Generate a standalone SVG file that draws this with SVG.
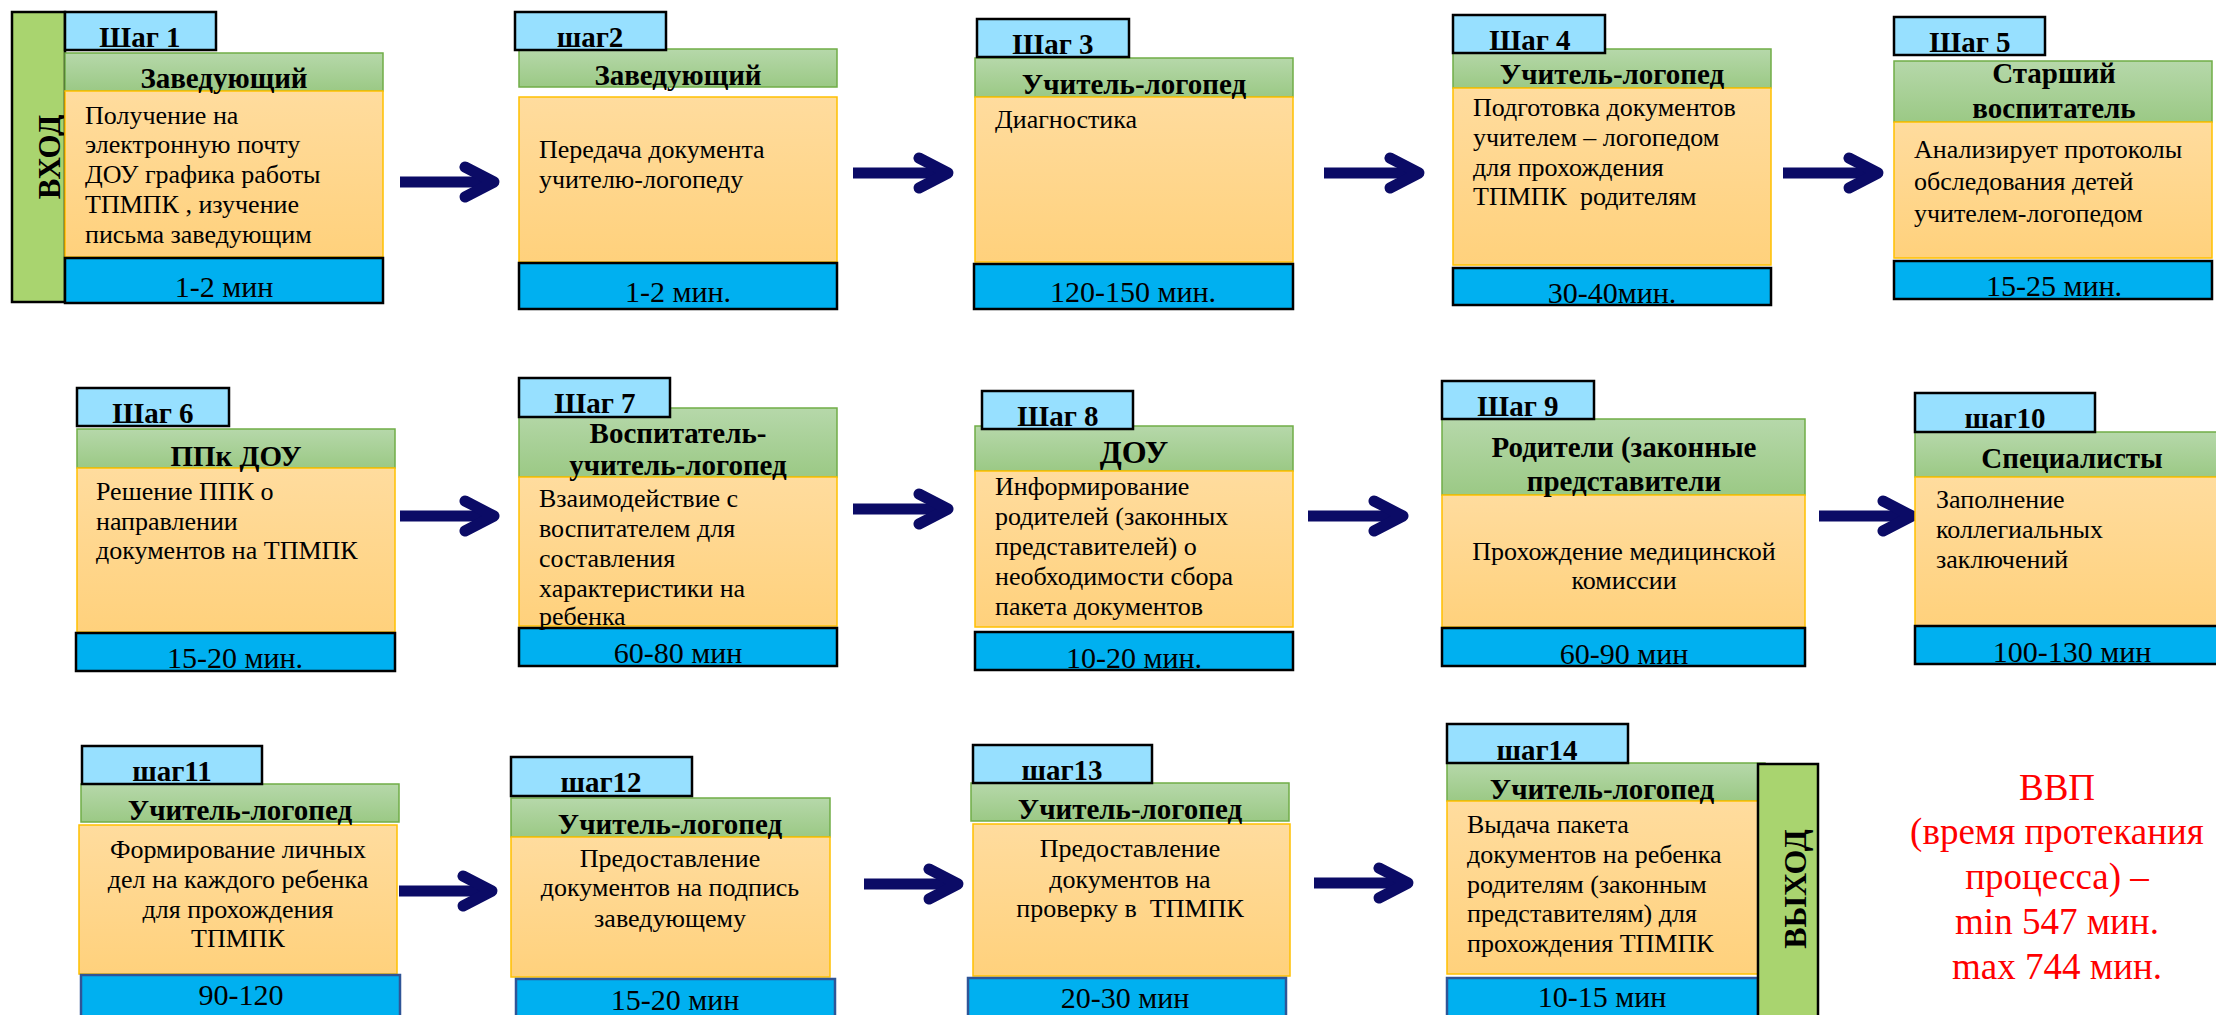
<svg xmlns="http://www.w3.org/2000/svg" width="2216" height="1015" viewBox="0 0 2216 1015">
<defs>
<linearGradient id="gG" x1="0" y1="0" x2="0" y2="1"><stop offset="0" stop-color="#B6D8AA"/><stop offset="1" stop-color="#9BC985"/></linearGradient>
<linearGradient id="gO" x1="0" y1="0" x2="0" y2="1"><stop offset="0" stop-color="#FFDC9E"/><stop offset="1" stop-color="#FFD17C"/></linearGradient>
<style>
.lbl{fill:#97E0FF;stroke:#000;stroke-width:2.5}
.hdr{fill:url(#gG);stroke:#70AD47;stroke-width:1.5}
.bd{fill:url(#gO);stroke:#FFC000;stroke-width:1.5}
.tm{fill:#00B0F0;stroke:#000;stroke-width:2.5}
.tm3{fill:#00B0F0;stroke:#2F5597;stroke-width:2.5}
.bar{fill:#A9D46F;stroke:#000;stroke-width:2.5}
text{font-family:"Liberation Serif","Times New Roman",serif;fill:#000;white-space:pre}
.lt{font-size:29px;font-weight:bold;text-anchor:middle}
.ht{font-size:29px;font-weight:bold;text-anchor:middle}
.bt{font-size:26px}
.bc{font-size:26px;text-anchor:middle}
.tt{font-size:30px;text-anchor:middle}
.vt{font-size:31px;font-weight:bold;text-anchor:middle}
.red{font-size:37px;text-anchor:middle;fill:#FF0000}
.al{fill:none;stroke:#0B0B66;stroke-width:11}
.ah{fill:none;stroke:#0B0B66;stroke-width:11;stroke-linecap:round;stroke-linejoin:round}
</style>
</defs>
<rect width="2216" height="1015" fill="#FFFFFF"/>

<g id="connectors">
<g><path class="al" d="M400 182H490"/><path class="ah" d="M465 167L494 182L465 197"/></g>
<g><path class="al" d="M853 173H944"/><path class="ah" d="M919 158L948 173L919 188"/></g>
<g><path class="al" d="M1324 173H1415"/><path class="ah" d="M1390 158L1419 173L1390 188"/></g>
<g><path class="al" d="M1783 173H1874"/><path class="ah" d="M1849 158L1878 173L1849 188"/></g>
<g><path class="al" d="M400 516H490"/><path class="ah" d="M465 501L494 516L465 531"/></g>
<g><path class="al" d="M853 509H944"/><path class="ah" d="M919 494L948 509L919 524"/></g>
<g><path class="al" d="M1308 516H1399"/><path class="ah" d="M1374 501L1403 516L1374 531"/></g>
<g><path class="al" d="M1819 516H1908"/><path class="ah" d="M1883 501L1912 516L1883 531"/></g>
<g><path class="al" d="M399 891H488"/><path class="ah" d="M463 876L492 891L463 906"/></g>
<g><path class="al" d="M864 884H954"/><path class="ah" d="M929 869L958 884L929 899"/></g>
<g><path class="al" d="M1314 883H1404"/><path class="ah" d="M1379 868L1408 883L1379 898"/></g>
</g>

<g id="entry">
<rect class="bar" x="12" y="12" width="53" height="290"/>
<text class="vt" transform="translate(49 157) rotate(-90)" x="0" y="11">ВХОД</text>
</g>

<g id="step1">
<rect class="hdr" x="65" y="53" width="318" height="38"/>
<rect class="bd" x="65" y="91" width="318" height="166"/>
<rect class="tm" x="65" y="258" width="318" height="45"/>
<rect class="lbl" x="65" y="12" width="151" height="38"/>
<text class="lt" x="140" y="47">Шаг 1</text>
<text class="ht" x="224" y="88">Заведующий</text>
<text class="bt" x="85" y="124">Получение на</text>
<text class="bt" x="85" y="153">электронную почту</text>
<text class="bt" x="85" y="183">ДОУ графика работы</text>
<text class="bt" x="85" y="213">ТПМПК , изучение</text>
<text class="bt" x="85" y="243">письма заведующим</text>
<text class="tt" x="224" y="297">1-2 мин</text>
</g>

<g id="step2">
<rect class="hdr" x="519" y="49" width="318" height="38"/>
<rect class="bd" x="519" y="97" width="318" height="165"/>
<rect class="tm" x="519" y="263" width="318" height="46"/>
<rect class="lbl" x="515" y="12" width="151" height="38"/>
<text class="lt" x="590" y="47">шаг2</text>
<text class="ht" x="678" y="85">Заведующий</text>
<text class="bt" x="539" y="158">Передача документа</text>
<text class="bt" x="539" y="188">учителю-логопеду</text>
<text class="tt" x="678" y="302">1-2 мин.</text>
</g>

<g id="step3">
<rect class="hdr" x="975" y="58" width="318" height="39"/>
<rect class="bd" x="975" y="97" width="318" height="165"/>
<rect class="tm" x="974" y="264" width="319" height="45"/>
<rect class="lbl" x="977" y="19" width="152" height="38"/>
<text class="lt" x="1053" y="54">Шаг 3</text>
<text class="ht" x="1134" y="94">Учитель-логопед</text>
<text class="bt" x="995" y="128">Диагностика</text>
<text class="tt" x="1133" y="302">120-150 мин.</text>
</g>

<g id="step4">
<rect class="hdr" x="1453" y="49" width="318" height="39"/>
<rect class="bd" x="1453" y="88" width="318" height="177"/>
<rect class="tm" x="1453" y="268" width="318" height="37"/>
<rect class="lbl" x="1453" y="15" width="152" height="38"/>
<text class="lt" x="1530" y="50">Шаг 4</text>
<text class="ht" x="1612" y="84">Учитель-логопед</text>
<text class="bt" x="1473" y="116">Подготовка документов</text>
<text class="bt" x="1473" y="146">учителем – логопедом</text>
<text class="bt" x="1473" y="176">для прохождения</text>
<text class="bt" x="1473" y="205">ТПМПК  родителям</text>
<text class="tt" x="1612" y="303">30-40мин.</text>
</g>

<g id="step5">
<rect class="hdr" x="1894" y="61" width="318" height="61"/>
<rect class="bd" x="1894" y="122" width="318" height="136"/>
<rect class="tm" x="1894" y="261" width="318" height="38"/>
<rect class="lbl" x="1894" y="17" width="151" height="38"/>
<text class="lt" x="1970" y="52">Шаг 5</text>
<text class="ht" x="2054" y="83">Старший</text>
<text class="ht" x="2054" y="118">воспитатель</text>
<text class="bt" x="1914" y="158">Анализирует протоколы</text>
<text class="bt" x="1914" y="190">обследования детей</text>
<text class="bt" x="1914" y="222">учителем-логопедом</text>
<text class="tt" x="2054" y="296">15-25 мин.</text>
</g>

<g id="step6">
<rect class="hdr" x="77" y="429" width="318" height="39"/>
<rect class="bd" x="77" y="468" width="318" height="164"/>
<rect class="tm" x="76" y="633" width="319" height="38"/>
<rect class="lbl" x="77" y="388" width="152" height="38"/>
<text class="lt" x="153" y="423">Шаг 6</text>
<text class="ht" x="236" y="466">ППк ДОУ</text>
<text class="bt" x="96" y="500">Решение ППК о</text>
<text class="bt" x="96" y="530">направлении</text>
<text class="bt" x="96" y="559">документов на ТПМПК</text>
<text class="tt" x="235" y="668">15-20 мин.</text>
</g>

<g id="step7">
<rect class="hdr" x="519" y="408" width="318" height="69"/>
<rect class="bd" x="519" y="477" width="318" height="149"/>
<rect class="tm" x="519" y="628" width="318" height="38"/>
<rect class="lbl" x="519" y="378" width="151" height="39"/>
<text class="lt" x="595" y="413">Шаг 7</text>
<text class="ht" x="678" y="443">Воспитатель-</text>
<text class="ht" x="678" y="475">учитель-логопед</text>
<text class="bt" x="539" y="507">Взаимодействие с</text>
<text class="bt" x="539" y="537">воспитателем для</text>
<text class="bt" x="539" y="567">составления</text>
<text class="bt" x="539" y="597">характеристики на</text>
<text class="bt" x="539" y="625">ребенка</text>
<text class="tt" x="678" y="663">60-80 мин</text>
</g>

<g id="step8">
<rect class="hdr" x="975" y="426" width="318" height="45"/>
<rect class="bd" x="975" y="471" width="318" height="156"/>
<rect class="tm" x="975" y="632" width="318" height="38"/>
<rect class="lbl" x="982" y="391" width="151" height="38"/>
<text class="lt" x="1058" y="426">Шаг 8</text>
<text class="ht" x="1134" y="463" style="font-size:32px">ДОУ</text>
<text class="bt" x="995" y="495">Информирование</text>
<text class="bt" x="995" y="525">родителей (законных</text>
<text class="bt" x="995" y="555">представителей) о</text>
<text class="bt" x="995" y="585">необходимости сбора</text>
<text class="bt" x="995" y="615">пакета документов</text>
<text class="tt" x="1134" y="668">10-20 мин.</text>
</g>

<g id="step9">
<rect class="hdr" x="1442" y="419" width="363" height="76"/>
<rect class="bd" x="1442" y="495" width="363" height="132"/>
<rect class="tm" x="1442" y="628" width="363" height="38"/>
<rect class="lbl" x="1442" y="381" width="152" height="38"/>
<text class="lt" x="1518" y="416">Шаг 9</text>
<text class="ht" x="1624" y="457">Родители (законные</text>
<text class="ht" x="1624" y="491">представители</text>
<text class="bc" x="1624" y="560">Прохождение медицинской</text>
<text class="bc" x="1624" y="589">комиссии</text>
<text class="tt" x="1624" y="664">60-90 мин</text>
</g>

<g id="step10">
<rect class="hdr" x="1915" y="432" width="305" height="45"/>
<rect class="bd" x="1915" y="477" width="305" height="149"/>
<rect class="tm" x="1915" y="626" width="305" height="38"/>
<rect class="lbl" x="1915" y="393" width="180" height="39"/>
<text class="lt" x="2005" y="428">шаг10</text>
<text class="ht" x="2072" y="468">Специалисты</text>
<text class="bt" x="1936" y="508">Заполнение</text>
<text class="bt" x="1936" y="538">коллегиальных</text>
<text class="bt" x="1936" y="568">заключений</text>
<text class="tt" x="2072" y="662">100-130 мин</text>
</g>

<g id="step11">
<rect class="hdr" x="81" y="784" width="318" height="38"/>
<rect class="bd" x="79" y="825" width="318" height="149"/>
<rect class="tm3" x="81" y="975" width="319" height="42"/>
<rect class="lbl" x="82" y="746" width="180" height="38"/>
<text class="lt" x="172" y="781">шаг11</text>
<text class="ht" x="240" y="820">Учитель-логопед</text>
<text class="bc" x="238" y="858">Формирование личных</text>
<text class="bc" x="238" y="888">дел на каждого ребенка</text>
<text class="bc" x="238" y="918">для прохождения</text>
<text class="bc" x="238" y="947">ТПМПК</text>
<text class="tt" x="241" y="1005">90-120</text>
</g>

<g id="step12">
<rect class="hdr" x="511" y="798" width="319" height="39"/>
<rect class="bd" x="511" y="837" width="319" height="140"/>
<rect class="tm3" x="516" y="979" width="319" height="38"/>
<rect class="lbl" x="511" y="757" width="181" height="39"/>
<text class="lt" x="601" y="792">шаг12</text>
<text class="ht" x="670" y="834">Учитель-логопед</text>
<text class="bc" x="670" y="867">Предоставление</text>
<text class="bc" x="670" y="896">документов на подпись</text>
<text class="bc" x="670" y="927">заведующему</text>
<text class="tt" x="675" y="1010">15-20 мин</text>
</g>

<g id="step13">
<rect class="hdr" x="971" y="783" width="318" height="38"/>
<rect class="bd" x="973" y="824" width="317" height="152"/>
<rect class="tm3" x="968" y="978" width="318" height="39"/>
<rect class="lbl" x="973" y="745" width="179" height="38"/>
<text class="lt" x="1062" y="780">шаг13</text>
<text class="ht" x="1130" y="819">Учитель-логопед</text>
<text class="bc" x="1130" y="857">Предоставление</text>
<text class="bc" x="1130" y="888">документов на</text>
<text class="bc" x="1130" y="917">проверку в  ТПМПК</text>
<text class="tt" x="1125" y="1008">20-30 мин</text>
</g>

<g id="step14">
<rect class="hdr" x="1447" y="763" width="318" height="38"/>
<rect class="bd" x="1447" y="801" width="311" height="173"/>
<rect class="tm3" x="1447" y="978" width="311" height="39"/>
<rect class="lbl" x="1447" y="724" width="181" height="39"/>
<text class="lt" x="1537" y="760">шаг14</text>
<text class="ht" x="1602" y="799">Учитель-логопед</text>
<text class="bt" x="1467" y="833">Выдача пакета</text>
<text class="bt" x="1467" y="863">документов на ребенка</text>
<text class="bt" x="1467" y="893">родителям (законным</text>
<text class="bt" x="1467" y="922">представителям) для</text>
<text class="bt" x="1467" y="952">прохождения ТПМПК</text>
<text class="tt" x="1602" y="1007">10-15 мин</text>
</g>

<g id="exit">
<rect class="bar" x="1758" y="764" width="60" height="253"/>
<text class="vt" transform="translate(1795 889) rotate(-90)" x="0" y="11" style="font-size:32px">ВЫХОД</text>
</g>

<g id="summary">
<text class="red" x="2057" y="800">ВВП</text>
<text class="red" x="2057" y="844">(время протекания</text>
<text class="red" x="2057" y="889">процесса) –</text>
<text class="red" x="2057" y="934">min 547 мин.</text>
<text class="red" x="2057" y="979">max 744 мин.</text>
</g>
</svg>
